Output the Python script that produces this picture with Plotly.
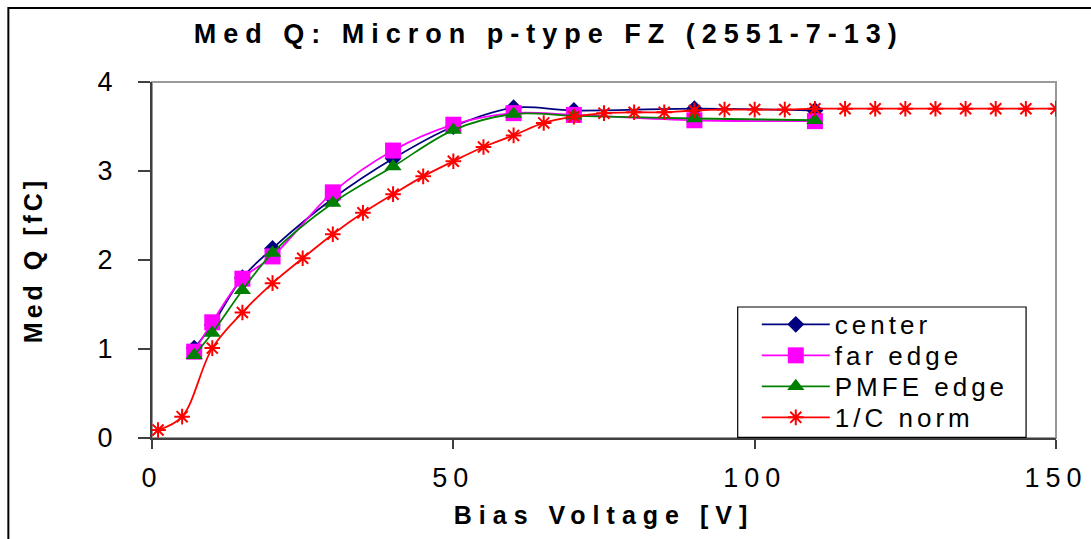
import plotly.graph_objects as go

# ---- data ----
bias_main = [7, 10, 15, 20, 30, 40, 50, 60, 70, 90, 110]
center = [1.01, 1.27, 1.80, 2.13, 2.69, 3.14, 3.50, 3.71, 3.68, 3.70, 3.68]
far_edge = [0.97, 1.30, 1.79, 2.04, 2.76, 3.23, 3.52, 3.65, 3.63, 3.57, 3.56]
pmfe_edge = [0.93, 1.18, 1.66, 2.08, 2.64, 3.05, 3.46, 3.64, 3.62, 3.59, 3.57]

bias_norm = [1, 5, 10, 15, 20, 25, 30, 35, 40, 45, 50, 55, 60, 65, 70, 75, 80, 85,
             90, 95, 100, 105, 110, 115, 120, 125, 130, 135, 140, 145, 150]
c_norm = [0.09, 0.24, 1.01, 1.41, 1.74, 2.02, 2.29, 2.53, 2.74, 2.94, 3.11, 3.27,
          3.40, 3.54, 3.61, 3.65, 3.66, 3.66, 3.68, 3.69, 3.69, 3.69, 3.70, 3.70,
          3.70, 3.70, 3.70, 3.70, 3.70, 3.70, 3.70]

x_ticks = [0, 50, 100, 150]
y_ticks = [0, 1, 2, 3, 4]

FONT = "Arial, Liberation Sans, sans-serif"

fig = go.Figure()
fig.add_trace(go.Scatter(
    x=bias_main, y=center, name="center", mode="lines+markers",
    line=dict(color="#000080", width=1.8, shape="spline", smoothing=1),
    marker=dict(symbol="diamond", size=13, color="#000080", line=dict(width=0))))
fig.add_trace(go.Scatter(
    x=bias_main, y=far_edge, name="far edge", mode="lines+markers",
    line=dict(color="#FF00FF", width=1.8, shape="spline", smoothing=1),
    marker=dict(symbol="square", size=16, color="#FF00FF", line=dict(width=0))))
fig.add_trace(go.Scatter(
    x=bias_main, y=pmfe_edge, name="PMFE edge", mode="lines+markers",
    line=dict(color="#008000", width=1.8, shape="spline", smoothing=1),
    marker=dict(symbol="triangle-up", size=15, color="#008000", line=dict(width=0))))
fig.add_trace(go.Scatter(
    x=bias_norm, y=c_norm, name="1/C norm", mode="lines+markers",
    line=dict(color="#FF0000", width=1.8, shape="spline", smoothing=1),
    marker=dict(symbol="asterisk-open", size=13, color="#FF0000",
                line=dict(width=2, color="#FF0000"))))

# plot-area border (grey) and outer chart border (black)
fig.add_shape(type="rect", xref="paper", yref="paper", x0=0, x1=1, y0=0, y1=1,
              line=dict(color="#999999", width=2), layer="below")
fig.add_shape(type="rect", xref="paper", yref="paper", x0=-0.1589, x1=1.2,
              y0=-0.5, y1=1.2079, line=dict(color="black", width=2), layer="below")
# legend frame
fig.add_shape(type="rect", xref="paper", yref="paper", x0=0.6479, x1=0.9669,
              y0=0.0017, y1=0.368, line=dict(color="black", width=1.2),
              fillcolor="white", layer="below")

fig.update_layout(
    width=1091, height=539,
    margin=dict(l=152, r=33, t=82, b=101),
    paper_bgcolor="white", plot_bgcolor="white",
    font=dict(family=FONT, color="black"),
    title=dict(text="<b>Med Q: Micron p-type FZ (2551-7-13)</b>",
               font=dict(size=27, family=FONT, color="black"),
               x=0.503, xref="container", xanchor="center",
               y=0.937, yref="container", yanchor="middle"),
    showlegend=True,
    legend=dict(x=0.669, y=0.385, xanchor="left", yanchor="top",
                bgcolor="rgba(0,0,0,0)", borderwidth=0,
                font=dict(size=26, family=FONT, color="black"),
                itemwidth=68, tracegroupgap=0),
)
fig.update_xaxes(
    range=[0, 150], tickvals=x_ticks, ticktext=[str(v) for v in x_ticks],
    showgrid=False, zeroline=False,
    showline=True, linecolor="#404040", linewidth=2,
    ticks="outside", ticklen=9, tickwidth=1.5, tickcolor="#404040",
    tickfont=dict(size=27, family=FONT, color="black"),
    ticklabelstandoff=6,
    title=dict(text="<b>Bias Voltage [V]</b>", font=dict(size=25, family=FONT, color="black"),
               standoff=14),
)
fig.update_yaxes(
    range=[0, 4], tickvals=y_ticks, ticktext=[str(v) for v in y_ticks],
    showgrid=False, zeroline=False,
    showline=True, linecolor="#404040", linewidth=2,
    ticks="outside", ticklen=12, tickwidth=1.5, tickcolor="#404040",
    tickfont=dict(size=27, family=FONT, color="black"),
    ticklabelstandoff=14,
    title=dict(text="<b>Med Q [fC]</b>", font=dict(size=25, family=FONT, color="black"),
               standoff=54),
)

post = """
var gd = document.getElementById('{plot_id}');
function ls(sel, v){
  gd.querySelectorAll(sel).forEach(function(e){ e.setAttribute('letter-spacing', v); e.style.letterSpacing = v; });
}
ls('.gtitle', '7px');
ls('.xtitle', '7px');
ls('.ytitle', '4px');
ls('.xtick text', '6px');
ls('.ytick text', '6px');
ls('.legendtext', '4px');
gd.querySelectorAll('.legend .scrollbox').forEach(function(e){ e.removeAttribute('clip-path'); });
var y0 = null;
gd.querySelectorAll('.legend .traces').forEach(function(e, i){
  var m = /translate\\(\\s*([-\\d.]+)[,\\s]+([-\\d.]+)\\s*\\)/.exec(e.getAttribute('transform') || '');
  if (!m) return;
  if (y0 === null) y0 = parseFloat(m[2]);
  e.setAttribute('transform', 'translate(' + m[1] + ',' + (y0 + i * 31) + ')');
});
"""

fig.write_html("out.html", post_script=post)
